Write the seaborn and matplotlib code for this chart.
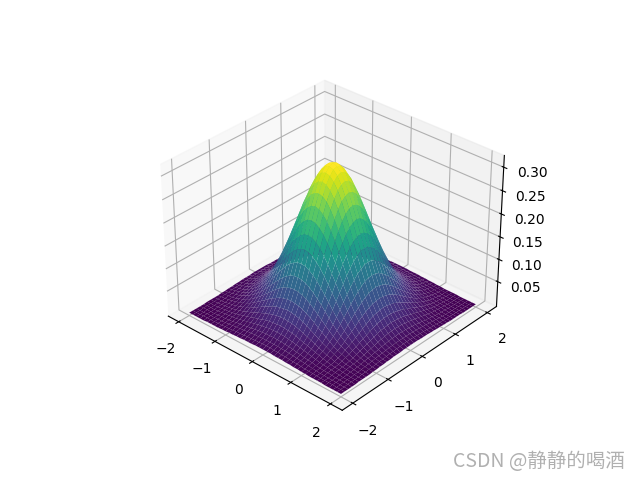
import numpy as np
import matplotlib
matplotlib.use("Agg")
import matplotlib.pyplot as plt
import seaborn as sns

# Grid coordinates of one quadrant of the surface (0 .. 2)
quadrant_axis = [0.0, 0.1, 0.2, 0.3, 0.4, 0.5, 0.6, 0.7, 0.8, 0.9, 1.0,
                 1.1, 1.2, 1.3, 1.4, 1.5, 1.6, 1.7, 1.8, 1.9, 2.0]

# Estimated surface heights for that quadrant (the surface looks symmetric in x and y)
quadrant_heights = [
    [.318, .315, .306, .291, .271, .248, .222, .195, .168, .142, .117, .095, .075, .059, .045, .034, .025, .018, .012, .009, .006],
    [.315, .312, .303, .288, .268, .245, .220, .193, .166, .141, .116, .094, .074, .058, .044, .033, .024, .017, .012, .009, .006],
    [.306, .303, .294, .280, .261, .238, .213, .187, .161, .136, .113, .091, .072, .056, .043, .032, .024, .017, .012, .008, .006],
    [.291, .288, .280, .266, .248, .227, .203, .178, .153, .130, .107, .087, .069, .054, .041, .031, .022, .016, .011, .008, .005],
    [.271, .268, .261, .248, .231, .211, .189, .166, .143, .121, .100, .081, .064, .050, .038, .029, .021, .015, .011, .007, .005],
    [.248, .245, .238, .227, .211, .193, .173, .152, .131, .110, .091, .074, .059, .046, .035, .026, .019, .014, .010, .007, .005],
    [.222, .220, .213, .203, .189, .173, .155, .136, .117, .099, .082, .066, .053, .041, .031, .023, .017, .012, .009, .006, .004],
    [.195, .193, .187, .178, .166, .152, .136, .120, .103, .087, .072, .058, .046, .036, .028, .021, .015, .011, .008, .005, .004],
    [.168, .166, .161, .153, .143, .131, .117, .103, .089, .075, .062, .050, .040, .031, .024, .018, .013, .009, .007, .005, .003],
    [.142, .141, .136, .130, .121, .110, .099, .087, .075, .063, .052, .042, .034, .026, .020, .015, .011, .008, .006, .004, .003],
    [.117, .116, .113, .107, .100, .091, .082, .072, .062, .052, .043, .035, .028, .022, .017, .013, .009, .007, .005, .003, .002],
    [.095, .094, .091, .087, .081, .074, .066, .058, .050, .042, .035, .028, .022, .018, .013, .010, .007, .005, .004, .003, .002],
    [.075, .074, .072, .069, .064, .059, .053, .046, .040, .034, .028, .022, .018, .014, .011, .008, .006, .004, .003, .002, .001],
    [.059, .058, .056, .054, .050, .046, .041, .036, .031, .026, .022, .018, .014, .011, .008, .006, .005, .003, .002, .002, .001],
    [.045, .044, .043, .041, .038, .035, .031, .028, .024, .020, .017, .013, .011, .008, .006, .005, .004, .003, .002, .001, .001],
    [.034, .033, .032, .031, .029, .026, .023, .021, .018, .015, .013, .010, .008, .006, .005, .004, .003, .002, .001, .001, .001],
    [.025, .024, .024, .022, .021, .019, .017, .015, .013, .011, .009, .007, .006, .005, .004, .003, .002, .001, .001, .001, .000],
    [.018, .017, .017, .016, .015, .014, .012, .011, .009, .008, .007, .005, .004, .003, .003, .002, .001, .001, .001, .001, .000],
    [.012, .012, .012, .011, .011, .010, .009, .008, .007, .006, .005, .004, .003, .002, .002, .001, .001, .001, .000, .000, .000],
    [.009, .009, .008, .008, .007, .007, .006, .005, .005, .004, .003, .003, .002, .002, .001, .001, .001, .001, .000, .000, .000],
    [.006, .006, .006, .005, .005, .005, .004, .004, .003, .003, .002, .002, .001, .001, .001, .001, .000, .000, .000, .000, .000],
]

z_ticks = [0.05, 0.10, 0.15, 0.20, 0.25, 0.30]
z_limits = [-0.0065, 0.3246]
watermark = "CSDN @静静的喝酒"

q_axis = np.array(quadrant_axis)
q = np.array(quadrant_heights)
axis_full = np.concatenate([-q_axis[:0:-1], q_axis])
right = np.vstack([q[:0:-1], q])
heights = np.hstack([right[:, :0:-1], right])
X, Y = np.meshgrid(axis_full, axis_full)

cmap = sns.color_palette("viridis", as_cmap=True)

fig = plt.figure(figsize=(6.4, 4.8), dpi=100)
ax = fig.add_subplot(projection="3d")
ax.plot_surface(X, Y, heights, cmap=cmap)
ax.view_init(elev=32, azim=-48)
ax.set_zticks(z_ticks)
ax.set_zlim(z_limits)

fig.text(0.977, 0.039, watermark, ha="right", va="center", fontsize=14,
         color="#a8a8a8", alpha=0.9,
         family=["Noto Sans CJK SC", "DejaVu Sans"])

fig.savefig("out.png", dpi=100)
